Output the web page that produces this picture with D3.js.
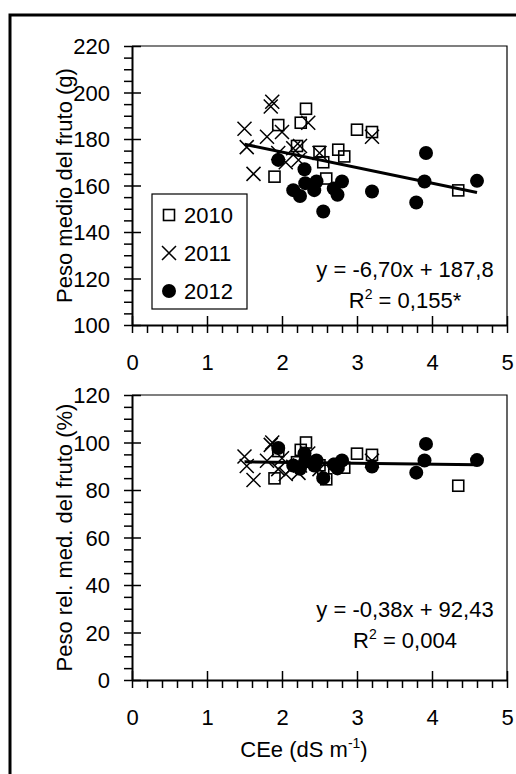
<!DOCTYPE html>
<html>
<head>
<meta charset="utf-8">
<script src="https://cdn.jsdelivr.net/npm/d3@7"></script>
<style>
  html, body { margin: 0; padding: 0; background: #fff; }
  svg text { font-family: "Liberation Sans", Arial, sans-serif; fill: #000; }
</style>
</head>
<body>
<svg id="chart" width="516" height="774"></svg>
<script>
// CEe (dS m-1) per year
const cee2010 = [1.90, 1.95, 2.20, 2.25, 2.32, 2.50, 2.55, 2.59, 2.75, 2.83, 3.00, 3.20, 4.35]
const peso2010 = [163.8, 186, 177, 187, 193, 174.5, 170, 163, 175.4, 172.5, 184, 183, 157.9]
const rel2010 = [84.9, 96.4, 91.7, 96.9, 100, 90.4, 88.1, 84.5, 90.9, 89.4, 95.3, 94.8, 81.8]

const cee2011 = [1.50, 1.53, 1.62, 1.80, 1.85, 1.87, 1.95, 2.00, 2.05, 2.15, 2.22, 2.24, 2.35, 2.50, 3.20]
const peso2011 = [184.4, 176.5, 165, 181, 194, 196, 174, 183, 170, 176, 171, 177, 187, 174, 181]
const rel2011 = [94.1, 90.1, 84.2, 92.3, 99.0, 100, 88.8, 93.4, 86.7, 89.8, 87.2, 90.3, 95.4, 88.8, 92.3]

const cee2012 = [1.95, 2.15, 2.24, 2.30, 2.31, 2.43, 2.46, 2.55, 2.69, 2.74, 2.80, 3.20, 3.79, 3.90, 3.92, 4.60]
const peso2012 = [171, 158, 155.5, 167, 161, 158, 161.7, 148.8, 158.7, 156, 161.7, 157.4, 152.7, 161.7, 174, 162]
const rel2012 = [97.7, 90.3, 88.9, 95.4, 92, 90.3, 92.4, 85, 90.7, 89.1, 92.4, 89.9, 87.3, 92.4, 99.4, 92.6]

const years = ["2010", "2011", "2012"]
const xTicks = [0, 1, 2, 3, 4, 5]
const pesoTicks = [100, 120, 140, 160, 180, 200, 220]
const relTicks = [0, 20, 40, 60, 80, 100, 120]

// trendlines: [slope, intercept]
const fitPeso = [-6.70, 187.8]
const fitRel = [-0.38, 92.43]

const FONT = 22
const svg = d3.select("#chart")

// outer frame
svg.append("rect")
  .attr("x", 10).attr("y", 15)
  .attr("width", 530).attr("height", 790)
  .attr("fill", "none").attr("stroke", "#000").attr("stroke-width", 3)

const x = d3.scaleLinear().domain([0, 5]).range([132, 507])

function drawMarker(g, kind, cx, cy) {
  if (kind === "2010") {
    g.append("rect")
      .attr("x", cx - 5.5).attr("y", cy - 5.5)
      .attr("width", 11).attr("height", 11)
      .attr("fill", "none").attr("stroke", "#000").attr("stroke-width", 1.6)
  } else if (kind === "2011") {
    const s = 7
    g.append("path")
      .attr("d", `M${cx - s},${cy - s}L${cx + s},${cy + s}M${cx - s},${cy + s}L${cx + s},${cy - s}`)
      .attr("stroke", "#000").attr("stroke-width", 1.5).attr("fill", "none")
  } else {
    g.append("circle").attr("cx", cx).attr("cy", cy).attr("r", 7).attr("fill", "#000")
  }
}

function drawPanel(cfg) {
  const y = d3.scaleLinear().domain(cfg.domain).range(cfg.range)
  const g = svg.append("g")
  const [x0, x1] = x.range()
  const [yb, yt] = y.range()

  // plot frame (top + right)
  g.append("path")
    .attr("d", `M${x0},${yt}H${x1}V${yb}`)
    .attr("fill", "none").attr("stroke", "#000").attr("stroke-width", 1.2)

  // y axis: minor ticks + labels outside, majors crossing inward
  const yMinor = d3.range(cfg.domain[0], cfg.domain[1] + 0.001, (cfg.domain[1] - cfg.domain[0]) / 24)
  const yAxis = g.append("g").attr("transform", `translate(${x0},0)`)
    .call(d3.axisLeft(y).tickValues(yMinor).tickSize(8).tickSizeOuter(0).tickPadding(14)
      .tickFormat(d => cfg.ticks.some(t => Math.abs(t - d) < 1e-6) ? d3.format("d")(d) : ""))
  g.append("g").attr("transform", `translate(${x0},0)`)
    .call(d3.axisRight(y).tickValues(cfg.ticks).tickSize(9).tickSizeOuter(0).tickFormat(""))
    .select(".domain").remove()

  // x axis
  const xMinor = d3.range(0, 5.001, 0.2)
  g.append("g").attr("transform", `translate(0,${yb})`)
    .call(d3.axisBottom(x).tickValues(xMinor).tickSize(8).tickSizeOuter(0).tickPadding(21)
      .tickFormat(d => xTicks.some(t => Math.abs(t - d) < 1e-6) ? d3.format("d")(d) : ""))
  g.append("g").attr("transform", `translate(0,${yb})`)
    .call(d3.axisTop(x).tickValues(xTicks).tickSize(9).tickSizeOuter(0).tickFormat(""))
    .select(".domain").remove()

  g.selectAll(".tick line").attr("stroke", "#000").attr("stroke-width", 1.5)
  g.selectAll(".domain").attr("stroke", "#000").attr("stroke-width", 2)
  g.selectAll(".tick text").style("font-size", FONT + "px").attr("fill", "#000")
  yAxis.selectAll(".tick text").attr("dy", "0.36em")

  // points
  const series = [
    ["2010", cee2010, cfg.v2010],
    ["2011", cee2011, cfg.v2011],
    ["2012", cee2012, cfg.v2012]
  ]
  const pts = g.append("g")
  series.forEach(([yr, xs, ys]) => {
    xs.forEach((cx, i) => drawMarker(pts, yr, x(cx), y(ys[i])))
  })

  // trendline over the range of CEe values
  const allX = cee2010.concat(cee2011, cee2012)
  const [xa, xb] = d3.extent(allX)
  const line = d3.line().x(d => x(d)).y(d => y(cfg.fit[0] * d + cfg.fit[1]))
  g.append("path").datum([xa, xb])
    .attr("d", line)
    .attr("fill", "none").attr("stroke", "#000").attr("stroke-width", 3)

  // equation + R2
  g.append("text").attr("x", 405).attr("y", cfg.eqY)
    .attr("text-anchor", "middle").style("font-size", FONT + "px")
    .text(cfg.eqText)
  const r2 = g.append("text").attr("x", 405).attr("y", cfg.eqY + 31)
    .attr("text-anchor", "middle").style("font-size", FONT + "px")
  r2.append("tspan").text("R")
  r2.append("tspan").attr("dy", -9).style("font-size", "14px").text("2")
  r2.append("tspan").attr("dy", 9).text(" = " + cfg.r2Text)

  // y title
  g.append("text")
    .attr("transform", `translate(72,${(yb + yt) / 2}) rotate(-90)`)
    .attr("text-anchor", "middle").style("font-size", FONT + "px")
    .text(cfg.title)

  return y
}

drawPanel({
  domain: [100, 220], range: [325, 46], ticks: pesoTicks,
  v2010: peso2010, v2011: peso2011, v2012: peso2012,
  fit: fitPeso, eqText: "y = -6,70x + 187,8", r2Text: "0,155*", eqY: 277,
  title: "Peso medio del fruto (g)"
})

drawPanel({
  domain: [0, 120], range: [680, 395], ticks: relTicks,
  v2010: rel2010, v2011: rel2011, v2012: rel2012,
  fit: fitRel, eqText: "y = -0,38x + 92,43", r2Text: "0,004", eqY: 617,
  title: "Peso rel. med. del fruto (%)"
})

// x title
const xt = svg.append("text").attr("x", 304).attr("y", 757)
  .attr("text-anchor", "middle").style("font-size", FONT + "px")
xt.append("tspan").text("CEe (dS m")
xt.append("tspan").attr("dy", -9).style("font-size", "14px").text("-1")
xt.append("tspan").attr("dy", 9).text(")")

// legend
const lg = svg.append("g")
lg.append("rect").attr("x", 152).attr("y", 194).attr("width", 95).attr("height", 115)
  .attr("fill", "#fff").attr("stroke", "#000").attr("stroke-width", 1.2)
const legendY = d3.scalePoint().domain(years).range([215, 291])
years.forEach(yr => {
  drawMarker(lg, yr, 169, legendY(yr))
  lg.append("text").attr("x", 184).attr("y", legendY(yr)).attr("dy", "0.36em")
    .style("font-size", FONT + "px").text(yr)
})
</script>
</body>
</html>
